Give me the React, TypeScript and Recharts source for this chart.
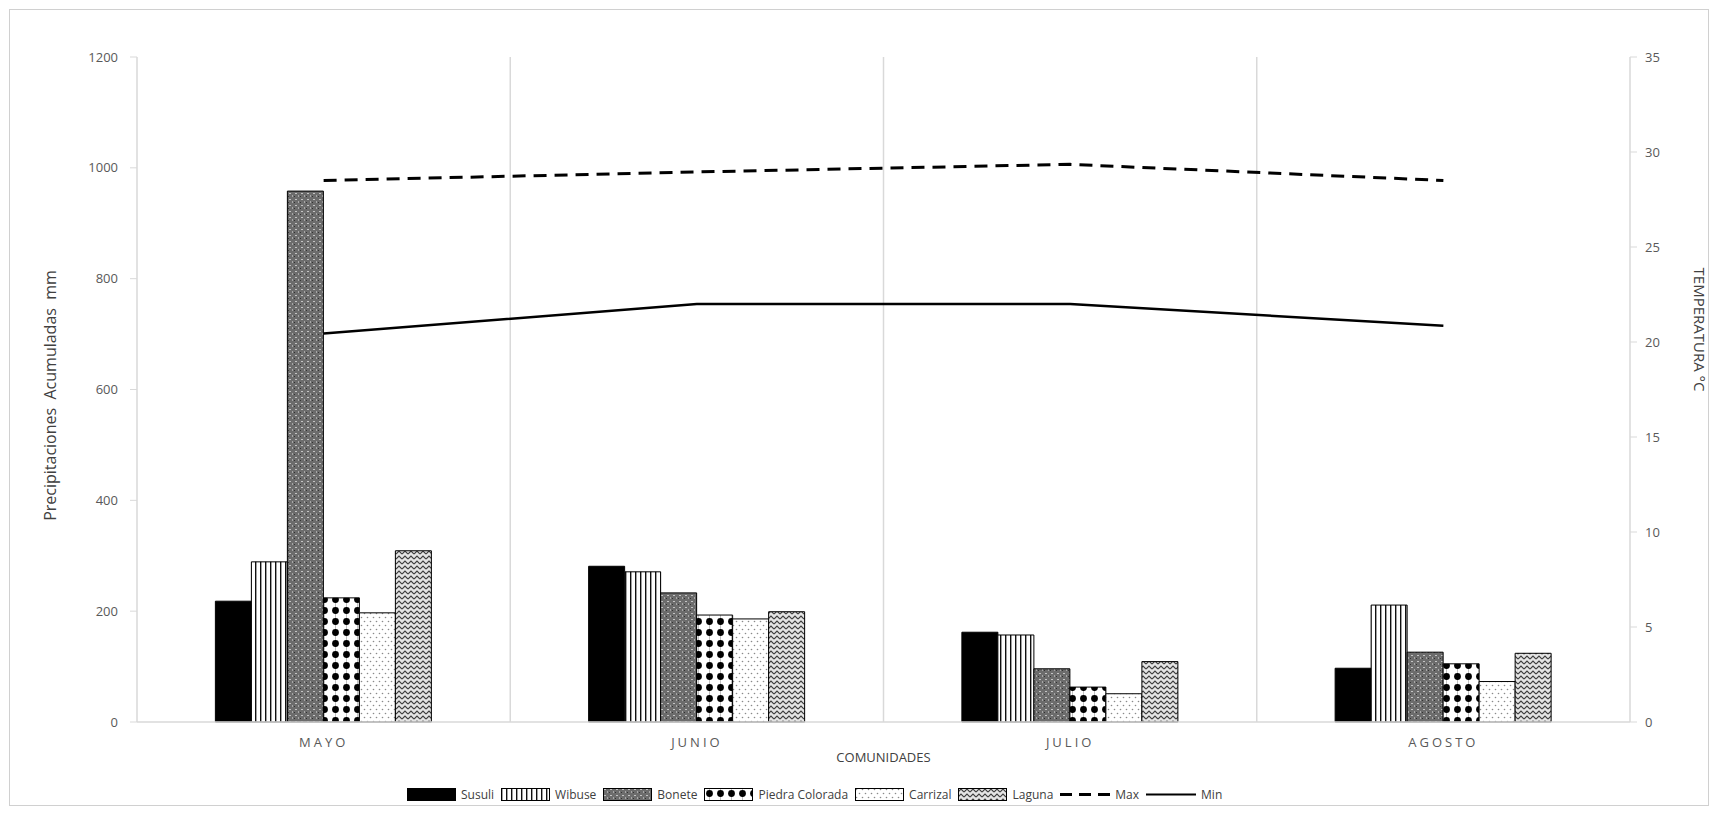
import { Bar, CartesianGrid, ComposedChart, Line, XAxis, YAxis } from 'recharts'

const W = 1718
const H = 815
const FONT = '"Open Sans", "Noto Sans", sans-serif'
const TEXT = '#595959'
const AXIS = '#d9d9d9'

const MONTHS = ['MAYO', 'JUNIO', 'JULIO', 'AGOSTO']
const SUSULI = [218, 281, 162, 97]
const WIBUSE = [289, 271, 157, 211]
const BONETE = [958, 233, 96, 126]
const PIEDRA = [224, 193, 63, 105]
const CARRIZAL = [197, 186, 51, 73]
const LAGUNA = [309, 199, 109, 124]
const T_MAX = [28.5, 28.95, 29.35, 28.5]
const T_MIN = [20.45, 22.0, 22.0, 20.85]
const PREC_TICKS = [0, 200, 400, 600, 800, 1000, 1200]
const TEMP_TICKS = [0, 5, 10, 15, 20, 25, 30, 35]

const BAR_SERIES = [
  { key: 'susuli', name: 'Susuli', fill: '#000' },
  { key: 'wibuse', name: 'Wibuse', fill: 'url(#pat-wibuse)' },
  { key: 'bonete', name: 'Bonete', fill: 'url(#pat-bonete)' },
  { key: 'piedra', name: 'Piedra Colorada', fill: 'url(#pat-piedra)' },
  { key: 'carrizal', name: 'Carrizal', fill: 'url(#pat-carrizal)' },
  { key: 'laguna', name: 'Laguna', fill: 'url(#pat-laguna)' },
]

const rows = MONTHS.map((m, i) => ({
  month: m,
  susuli: SUSULI[i],
  wibuse: WIBUSE[i],
  bonete: BONETE[i],
  piedra: PIEDRA[i],
  carrizal: CARRIZAL[i],
  laguna: LAGUNA[i],
  tmax: T_MAX[i],
  tmin: T_MIN[i],
}))

function Patterns() {
  return (
    <svg width={0} height={0} style={{ position: 'absolute' }}>
      <defs>
        <pattern id="pat-wibuse" width={5} height={5} patternUnits="userSpaceOnUse">
          <rect width={5} height={5} fill="#fff" />
          <rect x={0} width={1.4} height={5} fill="#111" />
        </pattern>
        <pattern id="pat-bonete" width={6} height={6} patternUnits="userSpaceOnUse">
          <rect width={6} height={6} fill="#6c6c6c" />
          <rect x={1} y={1} width={2} height={1} fill="#c4c4c4" />
          <rect x={4} y={3} width={1} height={2} fill="#a8a8a8" />
          <rect x={0} y={4} width={1} height={1} fill="#333" />
        </pattern>
        <pattern id="pat-piedra" width={11} height={11} patternUnits="userSpaceOnUse">
          <rect width={11} height={11} fill="#fff" />
          <circle cx={5.5} cy={5.5} r={3.4} fill="#000" />
          <rect x={5} y={0} width={1} height={11} fill="#000" opacity={0.25} />
        </pattern>
        <pattern id="pat-carrizal" width={6} height={8} patternUnits="userSpaceOnUse">
          <rect width={6} height={8} fill="#fff" />
          <circle cx={1.5} cy={1.5} r={0.8} fill="#8a8a8a" />
          <circle cx={4.5} cy={5.5} r={0.8} fill="#8a8a8a" />
        </pattern>
        <pattern id="pat-laguna" width={6} height={5} patternUnits="userSpaceOnUse">
          <rect width={6} height={5} fill="#e4e4e4" />
          <path d="M0 4 L3 1 L6 4" stroke="#3c3c3c" strokeWidth={1.1} fill="none" />
        </pattern>
      </defs>
    </svg>
  )
}

function LegendSwatch({ fill }: { fill: string }) {
  return (
    <svg width={49} height={13} style={{ display: 'block' }}>
      <rect x={0.5} y={0.5} width={48} height={12} fill={fill} stroke="#000" strokeWidth={1} />
    </svg>
  )
}

function LegendLine({ dashed }: { dashed?: boolean }) {
  return (
    <svg width={50} height={13} style={{ display: 'block' }}>
      <line
        x1={0}
        x2={50}
        y1={6.5}
        y2={6.5}
        stroke="#000"
        strokeWidth={dashed ? 3 : 2}
        strokeDasharray={dashed ? '12 7' : undefined}
      />
    </svg>
  )
}

function ChartLegend() {
  const item = { display: 'flex', alignItems: 'center', gap: 5, marginRight: 7 }
  return (
    <div
      style={{
        position: 'absolute',
        left: 407,
        top: 786,
        display: 'flex',
        alignItems: 'center',
        fontSize: 12,
        color: '#404040',
        whiteSpace: 'nowrap',
      }}
    >
      {BAR_SERIES.map((s) => (
        <div key={s.key} style={item}>
          <LegendSwatch fill={s.fill} />
          <span>{s.name}</span>
        </div>
      ))}
      <div style={item}>
        <LegendLine dashed />
        <span>Max</span>
      </div>
      <div style={item}>
        <LegendLine />
        <span>Min</span>
      </div>
    </div>
  )
}

export default function App() {
  return (
    <div style={{ position: 'relative', width: W, height: H, background: '#fff', fontFamily: FONT }}>
      <style>{'body{margin:0}'}</style>
      <Patterns />
      <ComposedChart
        width={W}
        height={H}
        data={rows}
        margin={{ top: 57, right: 0, bottom: 43, left: 0 }}
        barCategoryGap="21%"
        barGap={0}
        style={{ fontFamily: FONT }}
      >
        <CartesianGrid
          horizontal={false}
          stroke={AXIS}
          strokeWidth={1.5}
          verticalCoordinatesGenerator={({ offset }: any) => {
            const step = offset.width / MONTHS.length
            return MONTHS.slice(1).map((_, i) => offset.left + step * (i + 1))
          }}
        />
        <XAxis
          dataKey="month"
          height={50}
          tickLine={false}
          tickSize={0}
          tickMargin={16}
          axisLine={{ stroke: AXIS, strokeWidth: 1.5 }}
          tick={{ fill: TEXT, fontSize: 13, letterSpacing: 3 }}
          label={{ value: 'COMUNIDADES', position: 'insideTop', offset: 31, fill: '#404040', fontSize: 13 }}
        />
        <YAxis
          yAxisId="p"
          width={137}
          domain={[0, 1200]}
          ticks={PREC_TICKS}
          interval={0}
          tickSize={7}
          tickMargin={12}
          axisLine={{ stroke: AXIS, strokeWidth: 1.5 }}
          tickLine={{ stroke: AXIS }}
          tick={{ fill: TEXT, fontSize: 13 }}
          label={({ viewBox }: any) => {
            const x = viewBox.x + 50
            const y = viewBox.y + viewBox.height / 2 + 6
            return (
              <text
                x={x}
                y={y}
                transform={`rotate(-90 ${x} ${y})`}
                textAnchor="middle"
                dominantBaseline="central"
                fill="#404040"
                fontSize={16}
                style={{ whiteSpace: 'pre' }}
              >
                {'Precipitaciones  Acumuladas  mm'}
              </text>
            )
          }}
        />
        <YAxis
          yAxisId="t"
          orientation="right"
          width={88}
          domain={[0, 35]}
          ticks={TEMP_TICKS}
          interval={0}
          tickSize={7}
          tickMargin={8}
          axisLine={{ stroke: AXIS, strokeWidth: 1.5 }}
          tickLine={{ stroke: AXIS }}
          tick={{ fill: TEXT, fontSize: 13 }}
          label={({ viewBox }: any) => {
            const x = viewBox.x + 70
            const y = viewBox.y + viewBox.height / 2 - 60
            return (
              <text
                x={x}
                y={y}
                transform={`rotate(90 ${x} ${y})`}
                textAnchor="middle"
                dominantBaseline="central"
                fill="#404040"
                fontSize={15}
              >
                TEMPERATURA °C
              </text>
            )
          }}
        />
        {BAR_SERIES.map((s) => (
          <Bar
            key={s.key}
            yAxisId="p"
            dataKey={s.key}
            name={s.name}
            fill={s.fill}
            stroke="#000"
            strokeWidth={1}
            isAnimationActive={false}
          />
        ))}
        <Line
          yAxisId="t"
          dataKey="tmax"
          name="Max"
          stroke="#000"
          strokeWidth={3}
          strokeDasharray="13 8"
          dot={false}
          activeDot={false}
          isAnimationActive={false}
        />
        <Line
          yAxisId="t"
          dataKey="tmin"
          name="Min"
          stroke="#000"
          strokeWidth={2.5}
          dot={false}
          activeDot={false}
          isAnimationActive={false}
        />
      </ComposedChart>
      <ChartLegend />
      <div
        style={{
          position: 'absolute',
          left: 9,
          top: 9,
          width: W - 18,
          height: H - 18,
          border: '1px solid #d0d0d0',
          boxSizing: 'border-box',
          pointerEvents: 'none',
        }}
      />
    </div>
  )
}
